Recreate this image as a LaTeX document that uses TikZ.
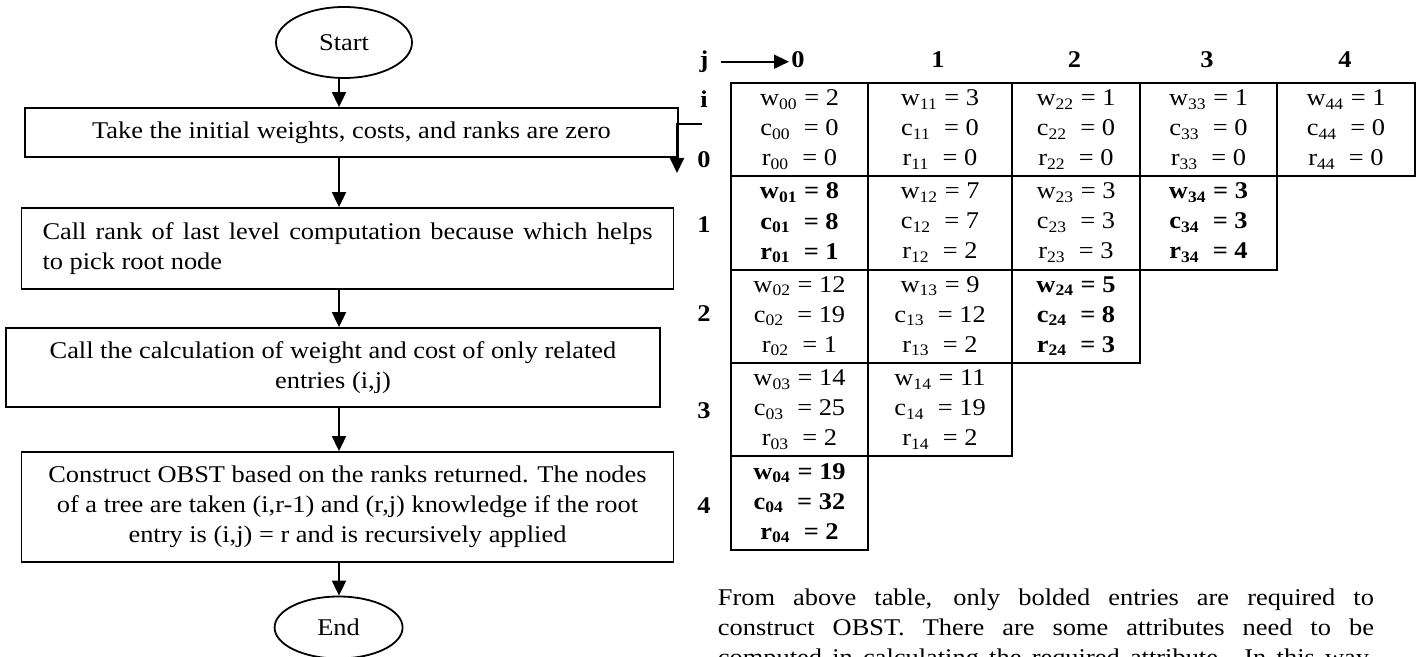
\documentclass[tikz,border=0pt]{standalone}
\usepackage{fontspec}
\setmainfont[FakeStretch=1.1]{Liberation Serif}
\usetikzlibrary{positioning,shapes.geometric,arrows.meta}

% one table entry: weight, cost and rank of (i,j)
\newcommand{\wcr}[4]{w\textsubscript{#1} = #2\\c\textsubscript{#1}\ \ = #3\\r\textsubscript{#1}\ \ = #4}

\begin{document}
\begin{tikzpicture}[
    x=0.5pt, y=-0.5pt,
    line/.style={draw, -{Triangle[width=7pt,length=7.5pt]}, line width=0.9pt},
    box/.style={
        draw,
        line width=0.9pt,
        align=center,
        inner sep=4pt,
        font=\fontsize{12}{15}\selectfont
    },
    oval/.style={draw, ellipse, line width=0.9pt, inner sep=0pt, font=\fontsize{12}{15}\selectfont},
    cell/.style={
        draw,
        line width=1pt,
        outer sep=0pt,
        inner sep=0pt,
        minimum height=46.7pt,
        align=center,
        font=\fontsize{12}{15}\selectfont
    },
    bcell/.style={cell, font=\fontsize{12}{15}\selectfont\bfseries},
    hdr/.style={font=\fontsize{12}{15}\selectfont\bfseries, inner sep=1pt, anchor=base},
    note/.style={text width=328pt, align=justify, inner sep=0pt, font=\fontsize{12}{15}\selectfont}
]
\useasboundingbox (0,0) rectangle (1423,657);
% Flowchart
\node[oval, minimum width=68pt, minimum height=35.5pt] (start) at (344,42.5) {Start};
\node[box, minimum width=326.5pt, minimum height=24.5pt] (take) at (351.5,132.5) {Take the initial weights, costs, and ranks are zero};
\node[box, minimum width=326pt, minimum height=40.5pt, text width=305pt, align=justify] (rank) at (347.5,248.5)
    {Call rank of last level computation because which helps\linebreak to pick root node};
\node[box, minimum width=327pt, minimum height=39.5pt] (calc) at (333,367.5)
    {Call the calculation of weight and cost of only related\\entries (i,j)};
\node[box, minimum width=326pt, minimum height=55pt] (obst) at (347.5,507)
    {Construct OBST based on the ranks returned. The nodes\\of a tree are taken (i,r-1) and (r,j) knowledge if the root\\entry is (i,j) = r and is recursively applied};
\node[oval, minimum width=64pt, minimum height=31pt] (end) at (338.6,627.5) {End};
% Flowchart arrows
\coordinate (axis) at (339,0);
\draw[line] (axis |- start.south) -- (axis |- take.north);
\draw[line] (axis |- take.south) -- (axis |- rank.north);
\draw[line] (axis |- rank.south) -- (axis |- calc.north);
\draw[line] (axis |- calc.south) -- (axis |- obst.north);
\draw[line] (axis |- obst.south) -- (axis |- end.north);
% Column and row labels
\node[hdr] (jlab) at (704,67.5) {j};
\node[hdr] (h0) at (798,67.5) {0};
\node[hdr] (h1) at (938,67.5) {1};
\node[hdr] (h2) at (1074.5,67.5) {2};
\node[hdr] (h3) at (1207,67.5) {3};
\node[hdr] (h4) at (1345,67.5) {4};
\node[hdr] (ilab) at (704,108) {i};
\node[hdr] (r0) at (704,168) {0};
\node[hdr] (r1) at (704,233) {1};
\node[hdr] (r2) at (704,322) {2};
\node[hdr] (r3) at (704,418) {3};
\node[hdr] (r4) at (704,513) {4};
\draw[line, shorten <=5pt] (jlab.east) -- (jlab.east -| h0.west);
\coordinate (istart) at (702,124);
\coordinate (iend) at (677,173);
\draw[line] (istart) -| (iend);
% Row 0
\node[cell, minimum width=68.5pt] (e00) at (799.5,129.5) {\wcr{00}{2}{0}{0}};
\node[cell, minimum width=72pt] (e11) at (940,129.5) {\wcr{11}{3}{0}{0}};
\node[cell, minimum width=64pt] (e22) at (1076,129.5) {\wcr{22}{1}{0}{0}};
\node[cell, minimum width=68.5pt] (e33) at (1208.5,129.5) {\wcr{33}{1}{0}{0}};
\node[cell, minimum width=69pt] (e44) at (1346,129.5) {\wcr{44}{1}{0}{0}};
% Row 1
\node[bcell, minimum width=68.5pt] (e01) at (799.5,222.9) {\wcr{01}{8}{8}{1}};
\node[cell, minimum width=72pt] (e12) at (940,222.9) {\wcr{12}{7}{7}{2}};
\node[cell, minimum width=64pt] (e23) at (1076,222.9) {\wcr{23}{3}{3}{3}};
\node[bcell, minimum width=68.5pt] (e34) at (1208.5,222.9) {\wcr{34}{3}{3}{4}};
% Row 2
\node[cell, minimum width=68.5pt] (e02) at (799.5,316.3) {\wcr{02}{12}{19}{1}};
\node[cell, minimum width=72pt] (e13) at (940,316.3) {\wcr{13}{9}{12}{2}};
\node[bcell, minimum width=64pt] (e24) at (1076,316.3) {\wcr{24}{5}{8}{3}};
% Row 3
\node[cell, minimum width=68.5pt] (e03) at (799.5,409.7) {\wcr{03}{14}{25}{2}};
\node[cell, minimum width=72pt] (e14) at (940,409.7) {\wcr{14}{11}{19}{2}};
% Row 4
\node[bcell, minimum width=68.5pt] (e04) at (799.5,503.1) {\wcr{04}{19}{32}{2}};
% Text below the table
\node[note, anchor=north west] (remark) at (717.5,588)
    {From above table, only bolded entries are required to\linebreak construct OBST. There are some attributes need to be\linebreak computed in calculating the required attribute. In this way,\linebreak};
\end{tikzpicture}
\end{document}
